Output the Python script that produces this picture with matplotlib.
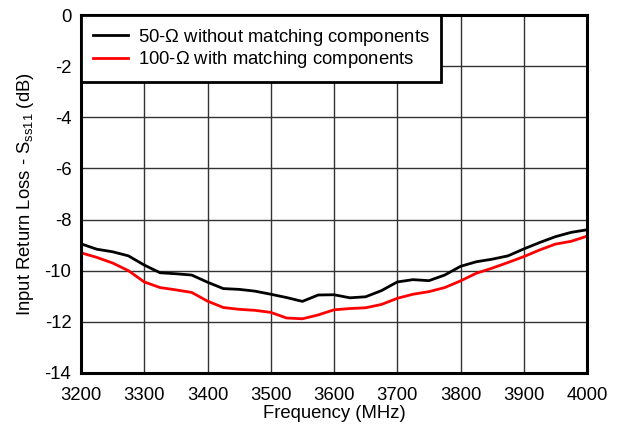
import numpy as np
import matplotlib
matplotlib.use('Agg')
import matplotlib.pyplot as plt

plt.rcParams['font.family'] = ['Liberation Sans', 'DejaVu Sans']
plt.rcParams['mathtext.fontset'] = 'custom'
plt.rcParams['mathtext.rm'] = 'Liberation Sans'
plt.rcParams['axes.unicode_minus'] = False

# frequency points (MHz)
freq = [3200, 3225, 3250, 3275, 3300, 3325, 3350, 3375, 3400, 3425, 3450,
        3475, 3500, 3525, 3550, 3575, 3600, 3625, 3650, 3675, 3700, 3725,
        3750, 3775, 3800, 3825, 3850, 3875, 3900, 3925, 3950, 3975, 4000]

# 50 ohm without matching components
s11_50 = [-8.95, -9.16, -9.26, -9.42, -9.78, -10.08, -10.12, -10.17, -10.45, -10.70, -10.73,
          -10.80, -10.92, -11.05, -11.20, -10.95, -10.94, -11.06, -11.02, -10.78, -10.44, -10.35,
          -10.39, -10.17, -9.83, -9.65, -9.55, -9.42, -9.15, -8.90, -8.67, -8.50, -8.40]

# 100 ohm with matching components
s11_100 = [-9.30, -9.48, -9.70, -10.00, -10.44, -10.66, -10.75, -10.85, -11.19, -11.44, -11.51,
           -11.55, -11.63, -11.85, -11.88, -11.73, -11.53, -11.48, -11.45, -11.32, -11.08, -10.92,
           -10.82, -10.66, -10.40, -10.10, -9.90, -9.68, -9.45, -9.19, -8.96, -8.85, -8.65]

labels = ['50-$\\Omega$ without matching components', '100-$\\Omega$ with matching components']

fs = 13.3

fig = plt.figure(figsize=(6.19, 4.30), dpi=100)
ax = fig.add_axes([0.1309, 0.1326, 0.8174, 0.8325])

ax.plot(freq, s11_50, color='black', lw=2, label=labels[0])
ax.plot(freq, s11_100, color='#ff0000', lw=2, label=labels[1])

ax.set_xlim(3200, 4000)
ax.set_ylim(-14, 0)
ax.set_xticks(np.arange(3200, 4001, 100))
ax.set_yticks(np.arange(-14, 1, 2))
ax.grid(True, color='#333333', lw=1)
ax.tick_params(axis='x', length=0, labelsize=fs, pad=10)
ax.tick_params(axis='y', length=0, labelsize=fs, pad=7)

for s in ax.spines.values():
    s.set_linewidth(2.2)

ax.set_xlabel('Frequency (MHz)', fontsize=fs, labelpad=1)
ax.set_ylabel('Input Return Loss - S$_{\\mathrm{ss11}}$ (dB)', fontsize=fs, labelpad=6)

leg = ax.legend(loc='upper left', bbox_to_anchor=(0, 1), fontsize=fs, frameon=True,
                fancybox=False, borderaxespad=0, handlelength=1.9, handletextpad=0.55,
                labelspacing=0.1, borderpad=0.63)
leg.get_frame().set_edgecolor('black')
leg.get_frame().set_linewidth(2)
leg.get_frame().set_alpha(1)

fig.savefig('out.png', dpi=100)
